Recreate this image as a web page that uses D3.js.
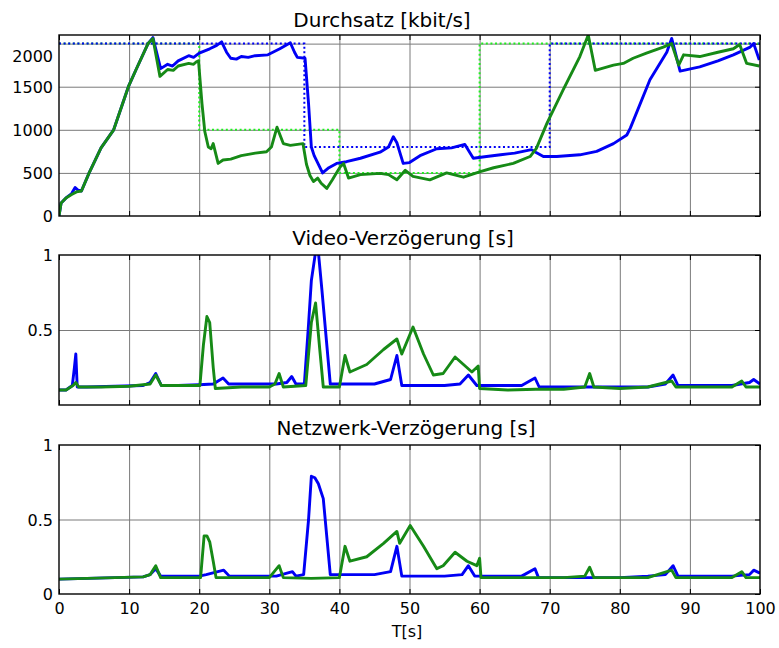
<!DOCTYPE html>
<html>
<head>
<meta charset="utf-8">
<script src="https://cdn.jsdelivr.net/npm/d3@7"></script>
<style>
	body { margin: 0; background: #fff; }
	text { font-family: "DejaVu Sans", sans-serif; fill: #000; }
</style>
</head>
<body>
<div class="canva"></div>
<script>
// x ticks (seconds)
const xTicks = [0, 10, 20, 30, 40, 50, 60, 70, 80, 90, 100];

// Durchsatz [kbit/s] -- [t, value]
const durchsatzBlau = [[0,0],[0.3,150],[1,210],[1.8,260],[2.3,330],[2.7,300],[3.2,290],[4.3,500],[6,790],[7.8,1000],[9.9,1500],[11,1700],[12.7,2000],[13.4,2070],[14.5,1710],[15.5,1760],[16.2,1740],[17,1800],[18.5,1860],[19.2,1840],[20,1890],[21.5,1940],[22.5,1980],[23.2,2020],[23.9,1900],[24.5,1830],[25.3,1820],[26,1850],[27,1840],[28,1860],[29.8,1870],[31.5,1940],[33,2010],[33.6,1900],[34,1840],[35.1,1830],[35.6,1300],[36,800],[36.4,700],[37.6,500],[38.5,560],[39.6,610],[41,630],[43,670],[45.8,740],[47,800],[47.7,920],[48.2,850],[49.1,610],[50,620],[51.5,700],[53.9,780],[56,790],[57.9,830],[59.1,670],[61,690],[63,710],[65,730],[67.4,770],[68,740],[69.1,690],[71,690],[74.3,710],[76.7,750],[79.1,840],[81,940],[81.5,1020],[84.3,1580],[86.7,1900],[87.4,2060],[88.6,1680],[91.4,1730],[94,1800],[96.2,1870],[98.6,1960],[99.1,2000],[99.9,1810]];
const durchsatzGruen = [[0,0],[0.3,150],[1,210],[1.8,250],[2.5,280],[3.2,290],[4.3,500],[6,790],[7.8,1000],[9.9,1500],[11,1700],[12.7,2000],[13.4,2060],[14.4,1620],[15.5,1700],[16.3,1690],[17,1740],[18.5,1770],[19.2,1760],[19.6,1790],[19.9,1800],[20.4,1300],[20.8,980],[21.3,800],[21.7,780],[22,840],[22.7,610],[23.4,650],[24.5,660],[26,700],[28,730],[29.6,746],[30.3,800],[31.1,1030],[32,840],[33,820],[34.8,840],[35.3,600],[35.8,470],[36.3,400],[36.9,440],[37.4,380],[38.2,320],[39,420],[40.1,570],[40.6,610],[41.3,440],[43,480],[45.8,495],[47,480],[48.2,420],[49.4,530],[50.5,460],[52.9,420],[55.3,500],[57.7,450],[60.1,515],[62,560],[64.8,610],[67.2,690],[68.1,785],[69.6,1075],[71.9,1460],[74.3,1850],[75.5,2100],[76.5,1690],[79.1,1750],[80.5,1770],[81.9,1830],[83.8,1890],[86.2,1960],[87.4,2000],[88.4,1750],[89.1,1870],[91.4,1850],[94,1900],[96.2,1940],[97.1,1990],[98.1,1770],[99.9,1740]];
const limitBlau = [[0,2000],[35,2000],[35,800],[70,800],[70,2000],[100,2000]];
const limitGruen = [[0,2000],[20,2000],[20,1000],[40,1000],[40,500],[60,500],[60,2000],[100,2000]];

// Video-Verzögerung [s]
const videoBlau = [[0,0.1],[1,0.1],[1.9,0.13],[2.2,0.25],[2.4,0.34],[2.6,0.12],[4,0.12],[8,0.125],[12,0.13],[13,0.15],[13.8,0.21],[14.6,0.13],[17,0.13],[20,0.135],[22,0.14],[23.4,0.18],[24.2,0.14],[28,0.14],[31,0.14],[32.5,0.15],[33.2,0.19],[33.8,0.14],[35,0.14],[35.6,0.54],[36,0.83],[36.6,1.02],[37,1.02],[37.5,0.77],[38.7,0.14],[42,0.14],[45,0.14],[47.3,0.17],[48.2,0.33],[48.9,0.13],[52,0.13],[55,0.13],[57.2,0.14],[58.4,0.2],[59.6,0.13],[62,0.13],[66,0.13],[67.9,0.18],[68.5,0.12],[72,0.12],[76,0.12],[80,0.12],[84,0.12],[86.5,0.14],[87.6,0.2],[88.3,0.13],[92,0.13],[96,0.13],[98.5,0.15],[99.1,0.17],[100,0.14]];
const videoGruen = [[0,0.1],[1,0.1],[2,0.13],[2.4,0.15],[2.8,0.12],[6,0.12],[10,0.125],[13,0.14],[13.8,0.2],[14.6,0.13],[18,0.13],[20.1,0.13],[20.6,0.4],[21.1,0.59],[21.5,0.55],[22,0.25],[22.3,0.11],[26,0.12],[30,0.12],[30.8,0.14],[31.4,0.21],[32,0.12],[35.2,0.13],[36,0.55],[36.6,0.68],[37.2,0.37],[37.7,0.12],[40,0.12],[40.8,0.33],[41.5,0.22],[43.9,0.27],[46.3,0.37],[48.2,0.44],[48.9,0.34],[50.5,0.52],[52,0.34],[53.4,0.2],[54.8,0.21],[56.5,0.32],[57.7,0.27],[58.9,0.22],[59.8,0.26],[60,0.11],[64,0.1],[68,0.105],[72,0.105],[75,0.12],[75.7,0.21],[76.3,0.12],[80,0.11],[84,0.12],[87.4,0.16],[88,0.12],[92,0.12],[96,0.12],[97.4,0.16],[98,0.12],[100,0.12]];

// Netzwerk-Verzögerung [s]
const netzBlau = [[0,0.1],[4,0.105],[8,0.11],[12,0.115],[13,0.13],[13.8,0.17],[14.5,0.12],[18,0.12],[20,0.12],[21,0.13],[23.5,0.16],[24.3,0.12],[28,0.12],[31,0.12],[33.3,0.15],[33.8,0.12],[34.9,0.13],[35.6,0.5],[36,0.79],[36.5,0.78],[37,0.74],[37.7,0.64],[38.7,0.13],[42,0.13],[45,0.13],[47.3,0.15],[48.2,0.32],[48.9,0.12],[52,0.12],[55,0.12],[57.5,0.13],[58.4,0.19],[59.3,0.12],[62,0.12],[66,0.12],[67.9,0.17],[68.4,0.11],[72,0.11],[76,0.11],[80,0.11],[84,0.12],[86.5,0.13],[87.6,0.19],[88.3,0.12],[92,0.12],[96,0.12],[98.5,0.13],[99.1,0.16],[100,0.14]];
const netzGruen = [[0,0.1],[4,0.105],[8,0.11],[12,0.115],[13,0.13],[13.8,0.19],[14.5,0.11],[18,0.11],[20.2,0.11],[20.7,0.39],[21.1,0.39],[21.5,0.35],[22,0.22],[22.4,0.11],[26,0.11],[30,0.11],[31.4,0.19],[32,0.11],[36,0.105],[40,0.11],[40.8,0.32],[41.5,0.22],[43.9,0.25],[46.3,0.34],[48.2,0.42],[48.6,0.34],[50.1,0.46],[52,0.32],[53.9,0.17],[54.8,0.19],[56.5,0.28],[58.2,0.22],[59.6,0.19],[60,0.24],[60.2,0.11],[64,0.11],[68,0.11],[72,0.11],[75,0.12],[75.7,0.18],[76.3,0.11],[80,0.11],[84,0.11],[87.4,0.16],[88,0.11],[92,0.11],[96,0.11],[97.4,0.15],[98,0.11],[100,0.11]];

const blue = "#0000f5";
const green = "#168a16";
const lime = "#22ee22";

const svg = d3.select(".canva")
	.append("svg")
	.attr("width", 779)
	.attr("height", 648);

const x = d3.scaleLinear().domain([0, 100]).range([59, 760]);

const panels = [
	{ title: "Durchsatz [kbit/s]", tx: 382, ty: 27, top: 35, bottom: 216, max: 2100,
		ticks: [0, 500, 1000, 1500, 2000], grid: [500, 1000, 1500, 2000],
		dotted: [[limitGruen, lime], [limitBlau, blue]], solid: [[durchsatzBlau, blue], [durchsatzGruen, green]] },
	{ title: "Video-Verzögerung [s]", tx: 403, ty: 245, top: 255, bottom: 405, max: 1,
		ticks: [0.5, 1], grid: [0.5],
		dotted: [], solid: [[videoBlau, blue], [videoGruen, green]] },
	{ title: "Netzwerk-Verzögerung [s]", tx: 406, ty: 435, top: 445, bottom: 594, max: 1,
		ticks: [0, 0.5, 1], grid: [0.5],
		dotted: [], solid: [[netzBlau, blue], [netzGruen, green]], xLabels: true }
];

panels.forEach((p, i) => {
	const y = d3.scaleLinear().domain([0, p.max]).range([p.bottom, p.top]);
	const g = svg.append("g");
	const h = p.bottom - p.top;

	g.append("clipPath").attr("id", "clip" + i)
		.append("rect").attr("x", 59).attr("y", p.top).attr("width", 701).attr("height", h);

	// grid
	g.append("g")
		.attr("transform", `translate(0,${p.bottom})`)
		.call(d3.axisBottom(x).tickValues(xTicks.slice(1, -1)).tickSize(-h).tickFormat(""))
		.call((a) => a.select(".domain").remove())
		.selectAll("line").attr("stroke", "#7a7a7a").attr("stroke-width", 1);
	g.append("g")
		.attr("transform", "translate(59,0)")
		.call(d3.axisLeft(y).tickValues(p.grid).tickSize(-701).tickFormat(""))
		.call((a) => a.select(".domain").remove())
		.selectAll("line").attr("stroke", "#7a7a7a").attr("stroke-width", 1);

	// inward ticks on top / bottom / right
	g.append("g").attr("transform", `translate(0,${p.top})`)
		.call(d3.axisTop(x).tickValues(xTicks).tickSize(-5).tickFormat(""))
		.call((a) => a.select(".domain").remove());
	g.append("g").attr("transform", `translate(0,${p.bottom})`)
		.call(d3.axisBottom(x).tickValues(xTicks).tickSize(-5).tickFormat(""))
		.call((a) => a.select(".domain").remove());
	g.append("g").attr("transform", "translate(760,0)")
		.call(d3.axisRight(y).tickValues(p.ticks).tickSize(-5).tickFormat(""))
		.call((a) => a.select(".domain").remove());

	const line = d3.line().x((d) => x(d[0])).y((d) => y(d[1]));

	const plot = g.append("g").attr("clip-path", `url(#clip${i})`);
	p.dotted.forEach(([data, col]) => {
		plot.append("path").datum(data).attr("d", line)
			.attr("fill", "none").attr("stroke", col)
			.attr("stroke-width", 2).attr("stroke-dasharray", "2,2.6");
	});
	p.solid.forEach(([data, col]) => {
		plot.append("path").datum(data).attr("d", line)
			.attr("fill", "none").attr("stroke", col)
			.attr("stroke-width", 2.9).attr("stroke-linejoin", "round");
	});

	// frame
	g.append("rect")
		.attr("x", 59).attr("y", p.top).attr("width", 701).attr("height", h)
		.attr("fill", "none").attr("stroke", "#000").attr("stroke-width", 1.4);

	// y labels
	const yl = g.append("g").attr("transform", "translate(59,0)")
		.call(d3.axisLeft(y).tickValues(p.ticks).tickSize(0).tickPadding(6).tickFormat(d3.format("")))
		.call((a) => a.select(".domain").remove());
	yl.selectAll("text").attr("font-size", 16).attr("font-family", "DejaVu Sans").attr("fill", "#000")
		.attr("dy", (d) => (d === 2000 ? "1.1em" : "0.35em"));

	if (p.xLabels) {
		const xl = g.append("g").attr("transform", `translate(0,${p.bottom})`)
			.call(d3.axisBottom(x).tickValues(xTicks).tickSize(0).tickPadding(9))
			.call((a) => a.select(".domain").remove());
		xl.selectAll("text").attr("font-size", 16).attr("font-family", "DejaVu Sans").attr("fill", "#000");
	}

	g.append("text")
		.attr("x", p.tx).attr("y", p.ty)
		.attr("text-anchor", "middle")
		.attr("font-size", 20)
		.text(p.title);
});

svg.append("text")
	.attr("x", 407).attr("y", 637)
	.attr("text-anchor", "middle")
	.attr("font-size", 16)
	.text("T[s]");
</script>
</body>
</html>
